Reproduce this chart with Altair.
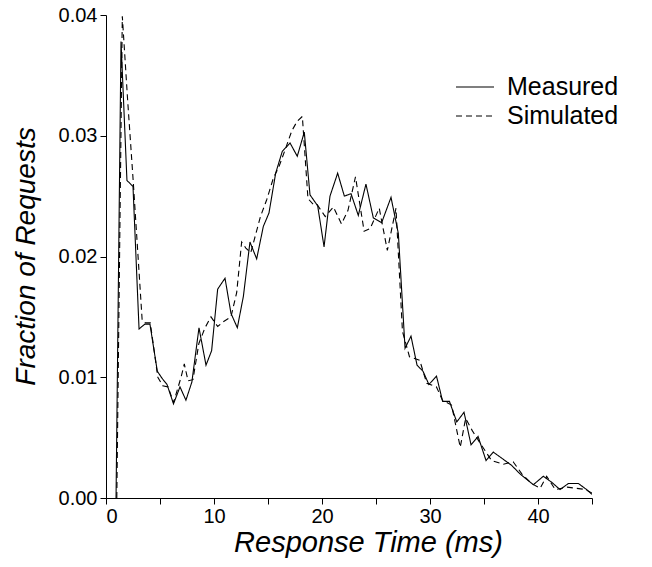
import altair as alt
import pandas as pd

# Measured series (time in ms, fraction of requests)
meas_x = [0.93, 1.39, 1.94, 2.50, 3.06, 3.60, 4.07, 4.75, 5.20, 5.65, 6.25, 6.85, 7.40, 7.95,
          8.61, 9.26, 9.78, 10.34, 11.02, 11.57, 12.16, 12.72, 13.33, 13.95, 14.57, 15.09,
          15.71, 16.32, 17.04, 17.71, 18.36, 18.89, 19.60, 20.19, 20.74, 21.45, 22.07, 22.69,
          23.36, 24.07, 24.75, 25.52, 26.39, 27.07, 27.69, 28.24, 28.80, 29.35, 29.90, 30.60,
          31.17, 31.80, 32.48, 33.15, 33.80, 34.45, 35.19, 35.86, 36.64, 37.56, 38.33, 39.57,
          40.49, 41.27, 42.04, 42.81, 43.74, 44.50, 45.00]
meas_y = [0.0, 0.0378, 0.0263, 0.0258, 0.0140, 0.0144, 0.0144, 0.0105, 0.0099, 0.0094, 0.0078,
          0.0092, 0.0081, 0.0096, 0.0141, 0.0110, 0.0122, 0.0173, 0.0182, 0.0153, 0.0141, 0.0167,
          0.0212, 0.0198, 0.0225, 0.0236, 0.0269, 0.0287, 0.0294, 0.0283, 0.0303, 0.0251, 0.0242,
          0.0208, 0.0250, 0.0269, 0.0250, 0.0252, 0.0234, 0.0260, 0.0232, 0.0228, 0.0249, 0.0219,
          0.0124, 0.0134, 0.0110, 0.0105, 0.0094, 0.0101, 0.0080, 0.0080, 0.0063, 0.0071, 0.0044,
          0.0051, 0.0031, 0.0038, 0.0033, 0.0027, 0.0020, 0.0011, 0.0018, 0.0013, 0.0007, 0.0012,
          0.0012, 0.0007, 0.0003]

# Simulated series
sim_x = [1.00, 1.51, 2.00, 2.53, 3.35, 3.65, 4.10, 4.80, 5.25, 5.75, 6.25, 6.95, 7.25, 7.60, 8.05,
         8.60, 9.17, 9.72, 10.34, 10.86, 11.57, 12.10, 12.56, 12.95, 13.40, 13.85, 14.30, 14.88,
         15.50, 16.00, 16.57, 17.20, 17.70, 18.18, 18.70, 19.20, 19.55, 20.30, 21.05, 21.80, 22.40,
         23.10, 23.90, 24.45, 25.30, 26.05, 26.85, 27.45, 28.10, 29.05, 29.70, 30.60, 31.15, 32.00,
         32.80, 33.30, 33.90, 34.60, 35.70, 36.80, 37.70, 38.50, 39.40, 40.20, 40.80, 41.60, 42.70,
         43.60, 44.40, 45.00]
sim_y = [0.0, 0.0399, 0.0330, 0.0261, 0.0147, 0.0145, 0.0145, 0.0100, 0.0093, 0.0092, 0.0079,
         0.0100, 0.0111, 0.0097, 0.0098, 0.0128, 0.0141, 0.0150, 0.0142, 0.0146, 0.0150, 0.0170,
         0.0212, 0.0207, 0.0203, 0.0218, 0.0233, 0.0247, 0.0265, 0.0274, 0.0288, 0.0304, 0.0312,
         0.0316, 0.0248, 0.0243, 0.0243, 0.0233, 0.0241, 0.0227, 0.0238, 0.0266, 0.0221, 0.0223,
         0.0240, 0.0205, 0.0240, 0.0138, 0.0117, 0.0114, 0.0095, 0.0092, 0.0081, 0.0077, 0.0042,
         0.0066, 0.0056, 0.0046, 0.0031, 0.0028, 0.0030, 0.0020, 0.0012, 0.0008, 0.0018, 0.0007,
         0.0009, 0.0008, 0.0007, 0.0004]

series_names = ["Measured", "Simulated"]
x_ticks = [0, 5, 10, 15, 20, 25, 30, 35, 40, 45]
y_ticks = [0.0, 0.01, 0.02, 0.03, 0.04]

df = pd.concat([
    pd.DataFrame({"t": meas_x, "f": meas_y, "series": series_names[0]}),
    pd.DataFrame({"t": sim_x, "f": sim_y, "series": series_names[1]}),
], ignore_index=True)

FONT = "Liberation Sans"

chart = alt.Chart(df).mark_line(color="black", strokeWidth=1.1, clip=True).encode(
    x=alt.X("t:Q",
            scale=alt.Scale(domain=[0, 45], nice=False, zero=False),
            axis=alt.Axis(values=x_ticks,
                          labelExpr="datum.value % 10 == 0 ? datum.label : ''",
                          title="Response Time (ms)", titleFontSize=29,
                          titleX=262, titleY=53, titleBaseline="alphabetic",
                          titleAlign="center", labelPadding=2)),
    y=alt.Y("f:Q",
            scale=alt.Scale(domain=[0, 0.04], nice=False),
            axis=alt.Axis(values=y_ticks, format=".2f",
                          title="Fraction of Requests", titleFontSize=28,
                          titleX=-72, titleY=241, titleBaseline="alphabetic",
                          titleAlign="center", labelPadding=3)),
    strokeDash=alt.StrokeDash(
        "series:N",
        scale=alt.Scale(domain=series_names, range=[[1, 0], [6, 4]]),
        legend=alt.Legend(title=None, orient="none", legendX=349, legendY=57.5,
                          symbolType="stroke", symbolSize=1444,
                          symbolStrokeColor="black", symbolStrokeWidth=1.1,
                          labelFontSize=25, labelFont=FONT, labelColor="black",
                          labelOffset=12, rowPadding=0, clipHeight=29,
                          padding=0, labelLimit=300)),
).properties(
    width=486, height=483,
    autosize=alt.AutoSizeParams(type="none"),
    padding={"left": 106, "top": 15, "right": 60, "bottom": 69},
).configure_view(stroke=None).configure_axis(
    grid=False, domainColor="black", tickColor="black", labelColor="black",
    titleColor="black", labelFont=FONT, titleFont=FONT, labelFontSize=20,
    titleFontStyle="italic", titleFontWeight="normal",
    tickSize=6, domainWidth=1, tickWidth=1,
)

chart.save("out.html", embed_options={"renderer": "svg", "actions": False})
